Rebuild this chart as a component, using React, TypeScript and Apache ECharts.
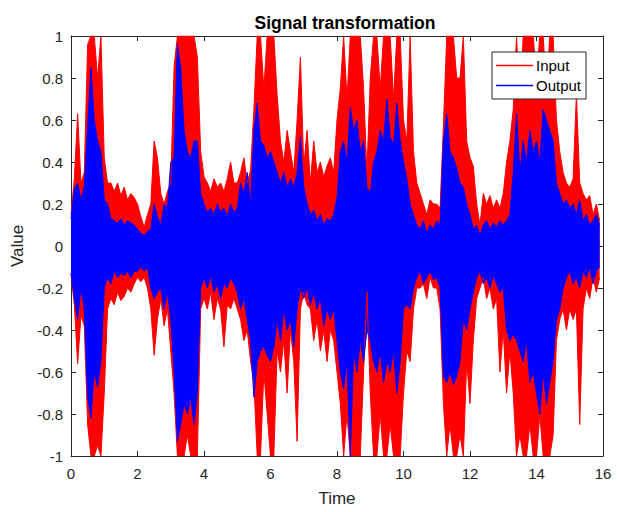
import React, { useEffect, useRef } from "react";
import * as echarts from "echarts";

const sampleStep = 0.1; // seconds between envelope samples
const xTicks = { min: 0, max: 16, interval: 2 };
const yTicks = { min: -1, max: 1, interval: 0.2 };
const seriesNames = ["Input", "Output"];

// Envelope of the input signal (upper / lower), one value per 0.1 s
const inputUpper = [
  0.15, 0.32, 0.63, 0.3, 0.35, 0.96, 1.0, 1.0, 0.8, 1.0,
  0.42, 0.3, 0.3, 0.26, 0.3, 0.24, 0.28, 0.22, 0.25, 0.23,
  0.2, 0.14, 0.09, 0.15, 0.2, 0.5, 0.42, 0.25, 0.2, 0.26,
  0.3, 0.85, 1.0, 1.0, 1.0, 1.0, 1.0, 1.0, 0.9, 0.45,
  0.33, 0.3, 0.26, 0.32, 0.28, 0.3, 0.26, 0.32, 0.4, 0.3,
  0.3, 0.35, 0.42, 0.3, 0.36, 0.65, 1.0, 1.0, 0.75, 1.0,
  1.0, 1.0, 0.72, 0.5, 0.4, 0.55, 0.45, 0.35, 0.6, 0.9,
  0.38, 0.55, 0.3, 0.5, 0.35, 0.4, 0.33, 0.38, 0.42, 0.35,
  0.6, 0.75, 1.0, 0.7, 1.0, 1.0, 1.0, 1.0, 0.75, 0.35,
  0.8, 1.0, 1.0, 0.75, 1.0, 1.0, 1.0, 0.7, 1.0, 1.0,
  0.6, 0.5, 1.0, 0.45, 0.3, 0.25, 0.2, 0.15, 0.22, 0.2,
  0.2, 0.18, 0.57, 1.0, 1.0, 1.0, 0.8, 0.8, 1.0, 0.5,
  0.42, 0.38, 0.2, 0.1, 0.25, 0.2, 0.24, 0.18, 0.22, 0.18,
  0.25, 0.4, 0.5, 0.65, 1.0, 0.65, 1.0, 1.0, 1.0, 1.0,
  0.8, 1.0, 1.0, 0.75, 1.0, 1.0, 0.6, 0.45, 0.35, 0.3,
  0.28, 0.32, 0.72, 0.3, 0.25, 0.22, 0.24, 0.15, 0.2, 0.12,
];
const inputLower = [
  -0.13, -0.28, -0.56, -0.33, -0.38, -0.85, -1, -1, -0.95, -1,
  -0.7, -0.3, -0.25, -0.28, -0.22, -0.26, -0.24, -0.2, -0.22, -0.18,
  -0.15, -0.17, -0.15, -0.2, -0.3, -0.52, -0.35, -0.25, -0.38, -0.3,
  -0.5, -0.7, -1, -1, -1, -0.9, -1, -1, -1, -0.3,
  -0.25, -0.3, -0.22, -0.35, -0.25, -0.3, -0.48, -0.28, -0.3, -0.25,
  -0.3, -0.35, -0.45, -0.4, -0.55, -0.65, -1, -1, -0.6, -0.8,
  -1, -1, -0.5, -0.6, -0.45, -0.7, -0.4, -0.55, -0.93, -0.3,
  -0.22, -0.28, -0.3, -0.45, -0.35, -0.5, -0.4, -0.55, -0.4, -0.45,
  -0.6, -0.75, -1, -0.8, -1, -1, -1, -1, -0.6, -0.22,
  -0.7, -1, -1, -0.8, -1, -1, -0.85, -1, -1, -1,
  -0.7, -0.5, -0.55, -0.3, -0.2, -0.2, -0.18, -0.25, -0.15, -0.2,
  -0.2, -0.3, -0.75, -1, -0.85, -1, -1, -0.9, -1, -0.55,
  -0.75, -0.45, -0.25, -0.2, -0.15, -0.25, -0.2, -0.3, -0.25, -0.6,
  -0.4, -0.7, -0.5, -0.7, -1, -0.9, -1, -1, -0.85, -1,
  -1, -0.8, -1, -1, -1, -0.9, -0.45, -0.35, -0.3, -0.4,
  -0.3, -0.35, -0.3, -0.85, -0.3, -0.2, -0.25, -0.15, -0.22, -0.15,
];

// Envelope of the output signal (upper / lower)
const outputUpper = [
  0.13, 0.27, 0.3, 0.22, 0.28, 0.57, 0.85, 0.6, 0.5, 0.45,
  0.22, 0.2, 0.13, 0.12, 0.11, 0.13, 0.1, 0.12, 0.11, 0.1,
  0.08, 0.06, 0.05, 0.07, 0.08, 0.2, 0.14, 0.1, 0.2, 0.18,
  0.4, 0.42, 0.96, 0.85, 0.55, 0.45, 0.42, 0.5, 0.5, 0.25,
  0.2, 0.16, 0.18, 0.15, 0.2, 0.16, 0.18, 0.14, 0.2, 0.16,
  0.18, 0.3, 0.25, 0.35, 0.2, 0.55, 0.68, 0.5, 0.48, 0.42,
  0.45, 0.4, 0.35, 0.3, 0.35, 0.28, 0.32, 0.28, 0.35, 0.52,
  0.28, 0.2, 0.15, 0.17, 0.12, 0.15, 0.1, 0.13, 0.12, 0.15,
  0.23, 0.45, 0.5, 0.4, 0.66, 0.55, 0.6, 0.45, 0.5, 0.28,
  0.25, 0.4, 0.45, 0.55, 0.5, 0.7, 0.52, 0.48, 0.68, 0.5,
  0.4, 0.32, 0.2, 0.15, 0.1, 0.08, 0.12, 0.06, 0.1, 0.08,
  0.12, 0.1, 0.5, 0.63, 0.45, 0.42, 0.37, 0.3, 0.28, 0.2,
  0.15, 0.08, 0.1, 0.05, 0.1, 0.12, 0.08, 0.11, 0.09, 0.12,
  0.1, 0.12, 0.15, 0.35, 0.63, 0.35, 0.5, 0.4, 0.55, 0.45,
  0.5, 0.4, 0.65, 0.6, 0.55, 0.5, 0.3, 0.25, 0.2, 0.22,
  0.18, 0.2, 0.15, 0.22, 0.12, 0.15, 0.1, 0.12, 0.15, 0.1,
];
const outputLower = [
  -0.13, -0.25, -0.35, -0.2, -0.3, -0.72, -0.82, -0.6, -0.67, -0.55,
  -0.2, -0.15, -0.18, -0.12, -0.15, -0.13, -0.14, -0.12, -0.15, -0.12,
  -0.12, -0.1, -0.12, -0.1, -0.2, -0.25, -0.22, -0.2, -0.3, -0.22,
  -0.35, -0.6, -0.93, -0.85, -0.75, -0.8, -0.72, -0.85, -0.7, -0.2,
  -0.15, -0.2, -0.14, -0.22, -0.18, -0.25, -0.18, -0.2, -0.15, -0.18,
  -0.22, -0.3, -0.25, -0.35, -0.45, -0.72, -0.55, -0.5, -0.48, -0.52,
  -0.55, -0.48, -0.35, -0.45, -0.3, -0.4, -0.35, -0.48, -0.3, -0.2,
  -0.25, -0.2, -0.28, -0.22, -0.3, -0.25, -0.38, -0.3, -0.35, -0.3,
  -0.45, -0.6, -0.68, -0.55, -1, -0.5, -0.6, -0.45, -0.55, -0.4,
  -0.45, -0.55, -0.6, -0.5, -0.65, -0.55, -0.6, -0.5, -0.7, -0.55,
  -0.3, -0.28, -0.3, -0.2, -0.15, -0.12, -0.18, -0.15, -0.12, -0.16,
  -0.15, -0.2, -0.62, -0.65, -0.6, -0.66, -0.62, -0.55, -0.35, -0.4,
  -0.3, -0.22, -0.15, -0.12, -0.18, -0.15, -0.2, -0.14, -0.18, -0.22,
  -0.2, -0.4, -0.45, -0.42, -0.45, -0.5, -0.55, -0.45, -0.65, -0.6,
  -0.7, -0.8, -0.6, -0.75, -0.65, -0.55, -0.35, -0.3, -0.2, -0.15,
  -0.12, -0.18, -0.15, -0.2, -0.12, -0.15, -0.1, -0.18, -0.12, -0.1,
];

const toPairs = (vals: number[]) =>
  vals.map((v, i) => [Number((i * sampleStep).toFixed(2)), v]);

const AXIS = "#262626";
const FONT = "'Liberation Sans', Arial, Helvetica, sans-serif";

export default function App() {
  const ref = useRef<HTMLDivElement>(null);

  useEffect(() => {
    if (!ref.current) return;
    const chart = echarts.init(ref.current, null, { renderer: "svg" });

    const band = (name: string, color: string, vals: number[]) => ({
      name,
      type: "line",
      data: toPairs(vals),
      showSymbol: false,
      symbol: "none",
      color,
      lineStyle: { color, width: 1 },
      areaStyle: { color, opacity: 1, origin: "auto" },
      clip: true,
      silent: true,
    });

    const fmt = (v: number) => String(Number(v.toFixed(1)));

    chart.setOption({
      animation: false,
      backgroundColor: "#ffffff",
      textStyle: { fontFamily: FONT },
      title: {
        text: "Signal transformation",
        left: 340,
        textAlign: "center",
        top: 9,
        textStyle: { fontFamily: FONT, fontSize: 17.5, fontWeight: "bold", color: "#000" },
      },
      legend: {
        data: seriesNames,
        orient: "vertical",
        left: 492,
        top: 52,
        icon: "rect",
        itemWidth: 37,
        itemHeight: 1.5,
        itemGap: 5,
        padding: [6, 5, 6, 4],
        borderColor: AXIS,
        borderWidth: 1,
        backgroundColor: "#ffffff",
        textStyle: { fontFamily: FONT, fontSize: 15, color: "#000", padding: [0, 0, 0, -2] },
        selectedMode: false,
      },
      grid: { left: 71, right: 14, top: 36, bottom: 56, containLabel: false },
      xAxis: [
        {
          type: "value",
          ...xTicks,
          name: "Time",
          nameLocation: "middle",
          nameGap: 34,
          nameTextStyle: { fontFamily: FONT, fontSize: 17, color: AXIS },
          axisLine: { show: true, onZero: false, lineStyle: { color: AXIS, width: 1 } },
          axisTick: { show: true, inside: true, length: 5, lineStyle: { color: AXIS } },
          axisLabel: { fontFamily: FONT, fontSize: 15, color: AXIS, margin: 10, formatter: fmt },
          splitLine: { show: false },
        },
        {
          type: "value",
          ...xTicks,
          position: "top",
          axisLine: { show: true, onZero: false, lineStyle: { color: AXIS, width: 1 } },
          axisTick: { show: true, inside: true, length: 5, lineStyle: { color: AXIS } },
          axisLabel: { show: false },
          splitLine: { show: false },
        },
      ],
      yAxis: [
        {
          type: "value",
          ...yTicks,
          name: "Value",
          nameLocation: "middle",
          nameGap: 42,
          nameTextStyle: { fontFamily: FONT, fontSize: 17, color: AXIS },
          axisLine: { show: true, onZero: false, lineStyle: { color: AXIS, width: 1 } },
          axisTick: { show: true, inside: true, length: 5, lineStyle: { color: AXIS } },
          axisLabel: { fontFamily: FONT, fontSize: 15, color: AXIS, margin: 8, formatter: fmt },
          splitLine: { show: false },
        },
        {
          type: "value",
          ...yTicks,
          position: "right",
          axisLine: { show: true, onZero: false, lineStyle: { color: AXIS, width: 1 } },
          axisTick: { show: true, inside: true, length: 5, lineStyle: { color: AXIS } },
          axisLabel: { show: false },
          splitLine: { show: false },
        },
      ],
      series: [
        band(seriesNames[0], "#ff0000", inputUpper),
        band(seriesNames[0], "#ff0000", inputLower),
        band(seriesNames[1], "#0000ff", outputUpper),
        band(seriesNames[1], "#0000ff", outputLower),
      ],
    });

    return () => chart.dispose();
  }, []);

  return (
    <div
      ref={ref}
      style={{ position: "absolute", left: 0, top: 0, width: 617, height: 512, background: "#fff" }}
    />
  );
}
